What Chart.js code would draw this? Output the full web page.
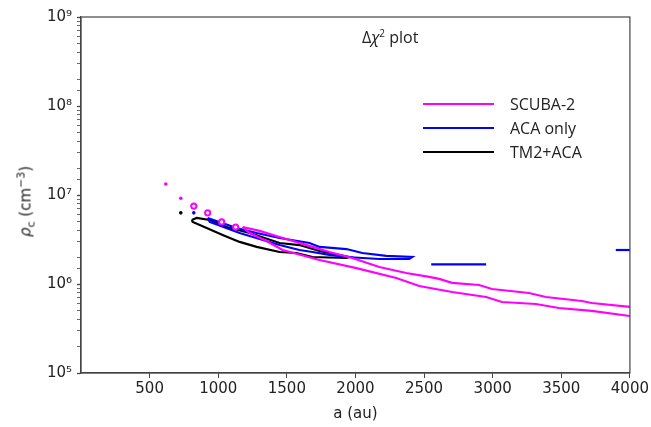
<!DOCTYPE html>
<html>
<head>
<meta charset="utf-8">
<script src="https://cdn.jsdelivr.net/npm/chart.js@4"></script>
<style>
  body { margin: 0; background: #fff; }
  #wrap { position: relative; width: 651px; height: 427px; }
  canvas { position: absolute; left: 0; top: 0; }
  .title { position: absolute; left: 362px; top: 26px; font: 16px "Open Sans", sans-serif; color: #222; }
  .ylab { position: absolute; left: 6px; top: 190px; width: 120px; text-align: center; transform: translate(-40px, 0) rotate(-90deg);
          font-family: "DejaVu Sans", sans-serif; font-size: 15px; font-weight: normal; color: #222; }
  .legend { position: absolute; left: 423px; top: 92px; font: 16px "Open Sans", sans-serif; color: #222; }
  .legend div { height: 24px; display: flex; align-items: center; }
  .legend span.l { display: inline-block; width: 71px; height: 0; border-top: 2.5px solid; margin-right: 16px; }
</style>
</head>
<body>
<div id="wrap">
  <canvas id="c" width="651" height="427"></canvas>
  <div class="title">Δ<i>χ</i><sup style="font-size:10px">2</sup> plot</div>
  <div class="ylab"><i>ρ</i><sub style="font-size:11px">c</sub> (cm<sup style="font-size:11px">−3</sup>)</div>
  <div class="legend">
    <div><span class="l" style="border-color:#ff00ff"></span>SCUBA-2</div>
    <div><span class="l" style="border-color:#0000ff"></span>ACA only</div>
    <div><span class="l" style="border-color:#000"></span>TM2+ACA</div>
  </div>
</div>
<script>
// ---- data (a in au, rho_c in cm^-3) ----
const xTicks = [500, 1000, 1500, 2000, 2500, 3000, 3500, 4000];
const yDecades = [1e5, 1e6, 1e7, 1e8, 1e9];

// SCUBA-2 contour, upper and lower branches
const scubaUpperA   = [1178, 1301, 1447, 1687, 1810, 1977, 2174, 2370, 2537, 2610, 2704, 2901, 2995, 3264, 3388, 3650, 3722, 4000];
const scubaUpperRho = [4.37e6, 3.95e6, 3.37e6, 2.61e6, 2.29e6, 1.96e6, 1.55e6, 1.33e6, 1.20e6, 1.14e6, 1.03e6, 9.75e5, 8.79e5, 7.92e5, 7.14e5, 6.44e5, 6.12e5, 5.52e5];
const scubaLowerA   = [1178, 1229, 1338, 1469, 1738, 2007, 2297, 2465, 2704, 2952, 3068, 3315, 3482, 3722, 4000];
const scubaLowerRho = [4.37e6, 3.74e6, 3.12e6, 2.41e6, 1.86e6, 1.51e6, 1.17e6, 9.5e5, 8.13e5, 7.14e5, 6.28e5, 5.96e5, 5.37e5, 4.98e5, 4.37e5];
// SCUBA-2 isolated dots and tiny rings
const scubaDotA   = [618, 727];
const scubaDotRho = [1.33e7, 9.2e6];
const scubaRingA   = [822, 923, 1025, 1127];
const scubaRingRho = [7.5e6, 6.3e6, 4.98e6, 4.37e6];

// ACA only contour (closed) plus pieces
const acaA   = [923, 1134, 1280, 1447, 1665, 1738, 1934, 2050, 2225, 2414, 2392, 2174, 1934, 1810, 1687, 1592, 1447, 1156, 938, 923];
const acaRho = [5.52e6, 4.26e6, 3.74e6, 3.29e6, 2.89e6, 2.61e6, 2.47e6, 2.23e6, 2.07e6, 2.01e6, 1.91e6, 1.91e6, 2.01e6, 2.12e6, 2.29e6, 2.41e6, 2.74e6, 3.74e6, 4.98e6, 5.52e6];
const acaSeg1A   = [2552, 2952];
const acaSeg1Rho = [1.66e6, 1.66e6];
const acaSeg2A   = [3897, 4000];
const acaSeg2Rho = [2.41e6, 2.41e6];
const acaDotA   = [822];
const acaDotRho = [6.3e6];

// TM2+ACA contour (closed)
const tmA   = [807, 843, 938, 1061, 1229, 1447, 1592, 1738, 1956, 1934, 1687, 1570, 1447, 1280, 1156, 1032, 916, 814, 807];
const tmRho = [5.24e6, 5.52e6, 5.24e6, 4.37e6, 3.74e6, 2.89e6, 2.74e6, 2.35e6, 2.01e6, 1.96e6, 2.01e6, 2.23e6, 2.29e6, 2.61e6, 2.97e6, 3.56e6, 4.26e6, 4.98e6, 5.24e6];
const tmDotA   = [727];
const tmDotRho = [6.3e6];

const MAGENTA = "#ff00ff", BLUE = "#0000ff", BLACK = "#000000";

function pts(xs, ys) { return xs.map((x, i) => ({ x, y: ys[i] })); }
function line(xs, ys, color) {
  return { data: pts(xs, ys), borderColor: color, borderWidth: 2.2, showLine: true, pointRadius: 0, tension: 0, fill: false };
}
function dots(xs, ys, color, r, ring) {
  return { data: pts(xs, ys), showLine: false, pointRadius: r, borderWidth: ring ? 2 : 0,
    borderColor: color, backgroundColor: ring ? "#fff" : color };
}

const supers = { "5": "⁵", "6": "⁶", "7": "⁷", "8": "⁸", "9": "⁹" };

// frame on top and right too
const frame = {
  id: "frame",
  afterDraw(chart) {
    const { ctx, chartArea: a } = chart;
    ctx.save();
    ctx.strokeStyle = "#444";
    ctx.lineWidth = 1.2;
    ctx.strokeRect(a.left, a.top, a.right - a.left, a.bottom - a.top);
    ctx.restore();
  }
};

new Chart(document.getElementById("c"), {
  type: "scatter",
  data: {
    datasets: [
      line(scubaUpperA, scubaUpperRho, MAGENTA),
      line(scubaLowerA, scubaLowerRho, MAGENTA),
      dots(scubaDotA, scubaDotRho, MAGENTA, 1.8, false),
      dots(scubaRingA, scubaRingRho, MAGENTA, 2.6, true),
      line(acaA, acaRho, BLUE),
      line(acaSeg1A, acaSeg1Rho, BLUE),
      line(acaSeg2A, acaSeg2Rho, BLUE),
      dots(acaDotA, acaDotRho, BLUE, 1.8, false),
      line(tmA, tmRho, BLACK),
      dots(tmDotA, tmDotRho, BLACK, 1.8, false),
    ]
  },
  options: {
    responsive: false,
    animation: false,
    layout: { padding: { top: 17, right: 20, left: 0, bottom: 0 } },
    plugins: { legend: { display: false }, tooltip: { enabled: false } },
    scales: {
      x: {
        type: "linear", min: 0, max: 4000,
        afterFit: s => { s.height = 54; },
        afterBuildTicks: s => { s.ticks = xTicks.map(v => ({ value: v })); },
        grid: { drawOnChartArea: false, tickLength: 5, color: "#444" },
        border: { color: "#444", width: 1.2 },
        ticks: { color: "#222", font: { family: "DejaVu Sans", size: 15 }, padding: 2, maxRotation: 0,
          callback: v => String(v) },
        title: { display: true, text: "a (au)", color: "#222", font: { family: "DejaVu Sans", size: 15 }, padding: { top: 0 } }
      },
      y: {
        type: "logarithmic", min: 1e5, max: 1e9,
        afterFit: s => { s.width = 81; },
        grid: { drawOnChartArea: false, tickLength: 4, color: "#444",
          tickWidth: c => (yDecades.includes(c.tick.value) ? 1.3 : 0.8) },
        border: { color: "#444", width: 1.2 },
        ticks: {
          color: "#222", font: { family: "DejaVu Sans", size: 15 }, padding: 5, autoSkip: false,
          callback: v => {
            if (!yDecades.includes(v)) return "";
            const e = String(Math.round(Math.log10(v)));
            return "10" + supers[e];
          }
        }
      }
    }
  },
  plugins: [frame]
});
</script>
</body>
</html>
